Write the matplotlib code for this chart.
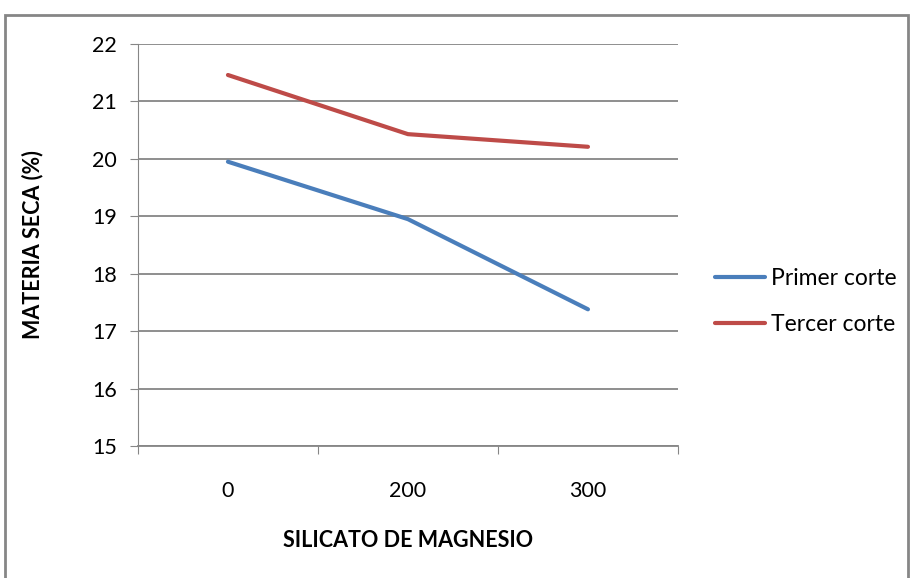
import matplotlib.pyplot as plt
from matplotlib.patches import Rectangle

plt.rcParams['font.family'] = ['Lato', 'DejaVu Sans']

categories = ['0', '200', '300']
primer_corte = [19.95, 18.95, 17.38]
tercer_corte = [21.46, 20.43, 20.21]
y_ticks = [15, 16, 17, 18, 19, 20, 21, 22]

fig = plt.figure(figsize=(9.1, 5.78), dpi=100)
ax = fig.add_axes([0.1516, 0.2284, 0.5934, 0.6955])

x = range(len(categories))
ax.plot(x, primer_corte, color='#4A7EBB', lw=3, solid_capstyle='round', label='Primer corte')
ax.plot(x, tercer_corte, color='#BE4B48', lw=3, solid_capstyle='round', label='Tercer corte')

ax.set_xlim(-0.5, len(categories) - 0.5)
ax.set_ylim(15, 22)
ax.set_yticks(y_ticks)
ax.yaxis.grid(True, color='#868686', lw=1.3)
ax.set_axisbelow(True)

# ticks between categories
ax.set_xticks([i - 0.5 for i in range(len(categories) + 1)])
ax.set_xticklabels([])
ax.set_xticks(list(x), minor=True)
ax.set_xticklabels(categories, minor=True)
ax.tick_params(axis='x', which='major', length=6, color='#868686', direction='out')
ax.tick_params(axis='x', which='minor', length=0, pad=25, labelsize=15.5)
ax.tick_params(axis='y', length=6, color='#868686', labelsize=15.5, pad=9)

for s in ['top', 'right']:
    ax.spines[s].set_visible(False)
ax.spines['left'].set_color('#868686')
ax.spines['bottom'].set_color('#868686')
ax.spines['bottom'].set_linewidth(1.3)

ax.set_ylabel('MATERIA SECA (%)', fontsize=15.5, fontweight='bold', va='center')
ax.yaxis.set_label_coords(-0.196, 0.5)
ax.set_xlabel('SILICATO DE MAGNESIO', fontsize=15.5, fontweight='bold', va='center')
ax.xaxis.set_label_coords(0.5, -0.236)

fig.legend(loc='center left', bbox_to_anchor=(0.763, 0.478), frameon=False,
           fontsize=16.5, handlelength=2.2, handletextpad=0.25, labelspacing=1.1)

fig.patches.append(Rectangle((5 / 910, -0.01), 903 / 910, 1 - 15 / 578 + 0.01,
                             transform=fig.transFigure, fill=False,
                             edgecolor='#868686', lw=2))

fig.savefig('out.png', dpi=100)
